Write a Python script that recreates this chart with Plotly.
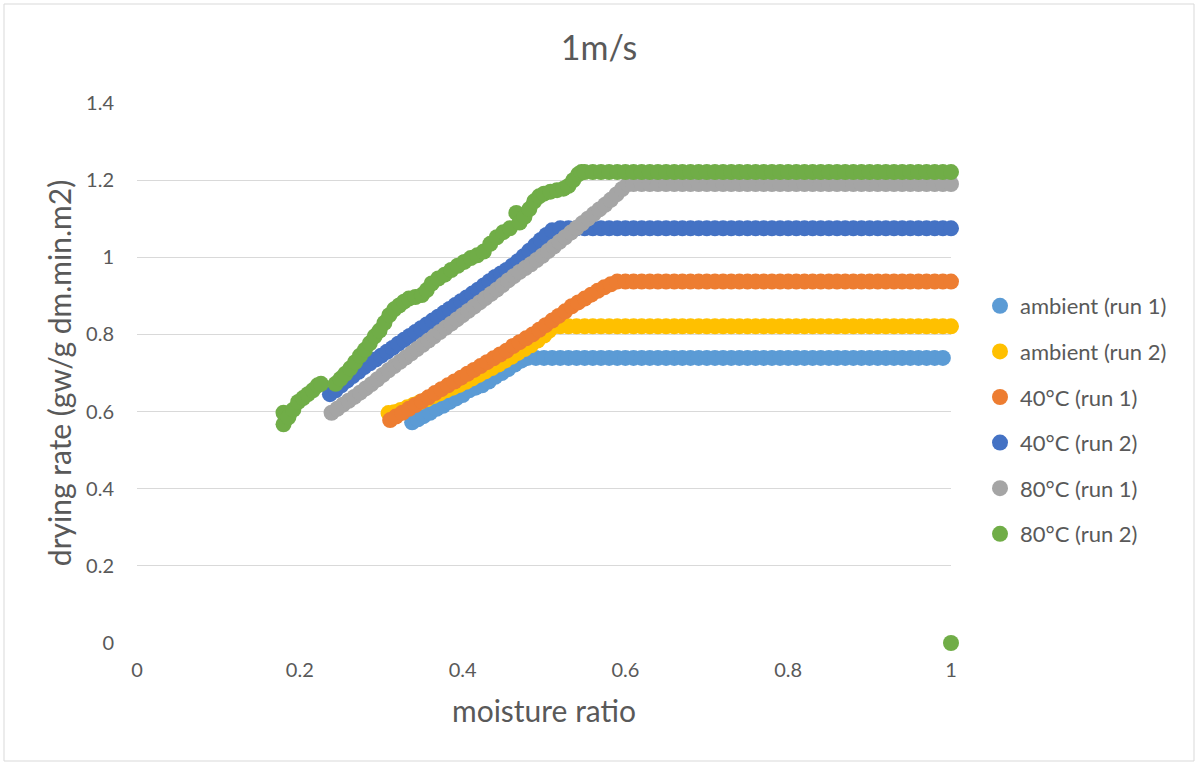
import plotly.graph_objects as go

# ---------------- data ----------------
series_names = ["ambient (run 1)", "ambient (run 2)", "40°C (run 1)",
                "40°C (run 2)", "80°C (run 1)", "80°C (run 2)"]
series_colors = ["#5B9BD5", "#FFC000", "#ED7D31", "#4472C4", "#A5A5A5", "#70AD47"]

plateau_grid = [0.48, 0.49, 0.5, 0.51, 0.52, 0.53, 0.54, 0.55, 0.56, 0.57,
                0.58, 0.59, 0.6, 0.61, 0.62, 0.63, 0.64, 0.65, 0.66, 0.67,
                0.68, 0.69, 0.7, 0.71, 0.72, 0.73, 0.74, 0.75, 0.76, 0.77,
                0.78, 0.79, 0.8, 0.81, 0.82, 0.83, 0.84, 0.85, 0.86, 0.87,
                0.88, 0.89, 0.9, 0.91, 0.92, 0.93, 0.94, 0.95, 0.96, 0.97,
                0.98, 0.99, 1.0]

# ambient (run 1)
amb1_x = [0.338, 0.345, 0.352, 0.36, 0.368, 0.376, 0.384, 0.392, 0.40, 0.408,
          0.416, 0.424, 0.432, 0.44, 0.448, 0.456, 0.464, 0.472] + plateau_grid[0:52]
amb1_y = [0.572, 0.58, 0.588, 0.597, 0.607, 0.615, 0.625, 0.634, 0.643, 0.655,
          0.662, 0.668, 0.678, 0.69, 0.70, 0.71, 0.722, 0.732] + [
    0.739, 0.739, 0.739, 0.739, 0.739, 0.739, 0.739, 0.739, 0.739, 0.739,
    0.739, 0.739, 0.739, 0.739, 0.739, 0.739, 0.739, 0.739, 0.739, 0.739,
    0.739, 0.739, 0.739, 0.739, 0.739, 0.739, 0.739, 0.739, 0.739, 0.739,
    0.739, 0.739, 0.739, 0.739, 0.739, 0.739, 0.739, 0.739, 0.739, 0.739,
    0.739, 0.739, 0.739, 0.739, 0.739, 0.739, 0.739, 0.739, 0.739, 0.739,
    0.739, 0.739]

# ambient (run 2)
amb2_x = [0.309, 0.316, 0.324, 0.332, 0.34, 0.348, 0.356, 0.364, 0.372, 0.38,
          0.388, 0.396, 0.404, 0.412, 0.42, 0.428, 0.436, 0.444, 0.452, 0.46,
          0.468, 0.476, 0.484, 0.492, 0.50, 0.506, 0.512] + plateau_grid[4:]
amb2_y = [0.596, 0.598, 0.604, 0.611, 0.618, 0.625, 0.632, 0.64, 0.647, 0.655,
          0.662, 0.669, 0.677, 0.686, 0.695, 0.704, 0.713, 0.722, 0.732, 0.742,
          0.752, 0.762, 0.772, 0.784, 0.797, 0.809, 0.821] + [
    0.821, 0.821, 0.821, 0.821, 0.821, 0.821, 0.821, 0.821, 0.821, 0.821,
    0.821, 0.821, 0.821, 0.821, 0.821, 0.821, 0.821, 0.821, 0.821, 0.821,
    0.821, 0.821, 0.821, 0.821, 0.821, 0.821, 0.821, 0.821, 0.821, 0.821,
    0.821, 0.821, 0.821, 0.821, 0.821, 0.821, 0.821, 0.821, 0.821, 0.821,
    0.821, 0.821, 0.821, 0.821, 0.821, 0.821, 0.821, 0.821, 0.821]

# 40°C (run 1)
c40a_x = [0.311, 0.318, 0.326, 0.334, 0.342, 0.35, 0.358, 0.366, 0.374, 0.382,
          0.39, 0.398, 0.406, 0.414, 0.422, 0.43, 0.438, 0.446, 0.454, 0.462,
          0.47, 0.478, 0.486, 0.494, 0.502, 0.51, 0.518, 0.526, 0.534, 0.542,
          0.55, 0.558, 0.566, 0.574, 0.582, 0.59] + plateau_grid[12:]
c40a_y = [0.578, 0.587, 0.597, 0.607, 0.617, 0.627, 0.637, 0.648, 0.658, 0.668,
          0.678, 0.688, 0.698, 0.708, 0.718, 0.728, 0.738, 0.748, 0.758, 0.77,
          0.78, 0.79, 0.80, 0.812, 0.824, 0.836, 0.848, 0.86, 0.873, 0.883,
          0.893, 0.903, 0.913, 0.922, 0.93, 0.937] + [
    0.937, 0.937, 0.937, 0.937, 0.937, 0.937, 0.937, 0.937, 0.937, 0.937,
    0.937, 0.937, 0.937, 0.937, 0.937, 0.937, 0.937, 0.937, 0.937, 0.937,
    0.937, 0.937, 0.937, 0.937, 0.937, 0.937, 0.937, 0.937, 0.937, 0.937,
    0.937, 0.937, 0.937, 0.937, 0.937, 0.937, 0.937, 0.937, 0.937, 0.937,
    0.937]

# 40°C (run 2)
c40b_x = [0.237, 0.244, 0.251, 0.258, 0.265, 0.272, 0.279, 0.286, 0.293, 0.30,
          0.307, 0.314, 0.321, 0.328, 0.335, 0.342, 0.349, 0.356, 0.363, 0.37,
          0.377, 0.384, 0.391, 0.398, 0.405, 0.412, 0.419, 0.426, 0.433, 0.44,
          0.447, 0.454, 0.461, 0.468, 0.475, 0.482, 0.489, 0.496, 0.503, 0.51] + plateau_grid[4:]
c40b_y = [0.645, 0.655, 0.668, 0.68, 0.692, 0.703, 0.715, 0.725, 0.735, 0.745,
          0.755, 0.765, 0.776, 0.786, 0.796, 0.806, 0.816, 0.826, 0.836, 0.846,
          0.856, 0.866, 0.876, 0.886, 0.896, 0.906, 0.916, 0.927, 0.938, 0.949,
          0.958, 0.967, 0.978, 0.99, 1.003, 1.017, 1.031, 1.045, 1.058, 1.07] + [
    1.075, 1.075, 1.075, 1.075, 1.075, 1.075, 1.075, 1.075, 1.075, 1.075,
    1.075, 1.075, 1.075, 1.075, 1.075, 1.075, 1.075, 1.075, 1.075, 1.075,
    1.075, 1.075, 1.075, 1.075, 1.075, 1.075, 1.075, 1.075, 1.075, 1.075,
    1.075, 1.075, 1.075, 1.075, 1.075, 1.075, 1.075, 1.075, 1.075, 1.075,
    1.075, 1.075, 1.075, 1.075, 1.075, 1.075, 1.075, 1.075, 1.075]

# 80°C (run 1)
c80a_x = [0.239, 0.246, 0.253, 0.26, 0.267, 0.274, 0.281, 0.288, 0.295, 0.302,
          0.309, 0.316, 0.323, 0.33, 0.337, 0.344, 0.351, 0.358, 0.365, 0.372,
          0.379, 0.386, 0.393, 0.40, 0.407, 0.414, 0.421, 0.428, 0.435, 0.442,
          0.449, 0.456, 0.463, 0.47, 0.477, 0.484, 0.491, 0.498, 0.505, 0.512,
          0.519, 0.526, 0.533, 0.54, 0.547, 0.554, 0.561, 0.568, 0.575, 0.582,
          0.589, 0.596, 0.603] + plateau_grid[13:]
c80a_y = [0.597, 0.607, 0.618, 0.628, 0.638, 0.649, 0.66, 0.671, 0.683, 0.695,
          0.707, 0.718, 0.729, 0.74, 0.751, 0.762, 0.773, 0.784, 0.795, 0.806,
          0.817, 0.828, 0.839, 0.85, 0.861, 0.872, 0.883, 0.894, 0.905, 0.916,
          0.928, 0.94, 0.951, 0.962, 0.972, 0.982, 0.993, 1.004, 1.016, 1.028,
          1.04, 1.052, 1.064, 1.076, 1.088, 1.1, 1.112, 1.124, 1.136, 1.149,
          1.163, 1.177, 1.19] + [
    1.19, 1.19, 1.19, 1.19, 1.19, 1.19, 1.19, 1.19, 1.19, 1.19,
    1.19, 1.19, 1.19, 1.19, 1.19, 1.19, 1.19, 1.19, 1.19, 1.19,
    1.19, 1.19, 1.19, 1.19, 1.19, 1.19, 1.19, 1.19, 1.19, 1.19,
    1.19, 1.19, 1.19, 1.19, 1.19, 1.19, 1.19, 1.19, 1.19, 1.19]

# 80°C (run 2)
c80b_x = [1.0, 0.18, 0.18, 0.186, 0.192, 0.198, 0.204, 0.21, 0.216, 0.222, 0.226,
          0.244, 0.25, 0.256, 0.262, 0.268, 0.274, 0.28, 0.286, 0.292, 0.298,
          0.304, 0.31, 0.316, 0.322, 0.328, 0.334, 0.342, 0.35, 0.356, 0.362,
          0.37, 0.378, 0.386, 0.394, 0.402, 0.41, 0.418, 0.426, 0.434, 0.442,
          0.45, 0.458, 0.466, 0.47, 0.476, 0.482, 0.488, 0.494, 0.50, 0.508,
          0.516, 0.524, 0.53, 0.536, 0.542, 0.546] + plateau_grid[7:]
c80b_y = [0.0, 0.567, 0.597, 0.585, 0.605, 0.625, 0.635, 0.645, 0.655, 0.668, 0.672,
          0.672, 0.685, 0.698, 0.712, 0.728, 0.745, 0.76, 0.777, 0.795, 0.81,
          0.83, 0.85, 0.865, 0.875, 0.885, 0.893, 0.897, 0.902, 0.915, 0.932,
          0.945, 0.955, 0.967, 0.978, 0.988, 0.998, 1.005, 1.015, 1.035, 1.052,
          1.065, 1.075, 1.115, 1.09, 1.105, 1.125, 1.145, 1.158, 1.165, 1.17,
          1.174, 1.178, 1.185, 1.2, 1.215, 1.221] + [
    1.221, 1.221, 1.221, 1.221, 1.221, 1.221, 1.221, 1.221, 1.221, 1.221,
    1.221, 1.221, 1.221, 1.221, 1.221, 1.221, 1.221, 1.221, 1.221, 1.221,
    1.221, 1.221, 1.221, 1.221, 1.221, 1.221, 1.221, 1.221, 1.221, 1.221,
    1.221, 1.221, 1.221, 1.221, 1.221, 1.221, 1.221, 1.221, 1.221, 1.221,
    1.221, 1.221, 1.221, 1.221, 1.221, 1.221]

x_ticks = [0, 0.2, 0.4, 0.6, 0.8, 1]
x_tick_labels = ["0", "0.2", "0.4", "0.6", "0.8", "1"]
y_ticks = [0, 0.2, 0.4, 0.6, 0.8, 1, 1.2, 1.4]
y_tick_labels = ["0", "0.2", "0.4", "0.6", "0.8", "1", "1.2", "1.4"]

all_x = [amb1_x, amb2_x, c40a_x, c40b_x, c80a_x, c80b_x]
all_y = [amb1_y, amb2_y, c40a_y, c40b_y, c80a_y, c80b_y]

# ---------------- figure ----------------
FONT = "Lato, Carlito, Calibri, sans-serif"
TXT = "#595959"
GRID = "#D9D9D9"

fig = go.Figure()
for i, (name, color, xs, ys) in enumerate(zip(series_names, series_colors, all_x, all_y)):
    fig.add_trace(go.Scatter(
        x=xs, y=ys, name=name, mode="markers",
        marker=dict(size=16, color=color, line=dict(width=0)),
        cliponaxis=False, legendgroup=f"g{i}",
    ))

W, H = 1198, 765
L, R, T, B = 137, W - 951, 103, H - 643
pw, ph = W - L - R, H - T - B

def px_x(p):
    return (p - L) / pw

def px_y(p):
    return (H - B - p) / ph

fig.update_layout(
    width=W, height=H,
    margin=dict(l=L, r=R, t=T, b=B, pad=0),
    paper_bgcolor="white", plot_bgcolor="white",
    font=dict(family=FONT, color=TXT, size=20),
    title=dict(text="1m/s", x=0.5, xanchor="center", xref="container",
               y=1 - 48 / H, yanchor="middle", yref="container",
               font=dict(size=34, color=TXT, family=FONT)),
    xaxis=dict(range=[0, 1], tickvals=x_ticks, ticktext=x_tick_labels,
               showgrid=False, zeroline=False, showline=False, ticks="",
               tickfont=dict(size=20, color=TXT), ticklabelstandoff=13,
               title=dict(text="moisture ratio", font=dict(size=30, color=TXT), standoff=20)),
    yaxis=dict(range=[0, 1.4], tickvals=y_ticks, ticktext=y_tick_labels,
               showgrid=True, gridcolor=GRID, gridwidth=1.3, zeroline=False,
               showline=False, ticks="", tickfont=dict(size=20, color=TXT),
               ticklabelstandoff=22,
               title=dict(text="drying rate (gw/g dm.min.m2)", font=dict(size=30, color=TXT), standoff=5)),
    legend=dict(x=px_x(980), xanchor="left", y=px_y(420), yanchor="middle",
                font=dict(size=22, color=TXT), tracegroupgap=14,
                bgcolor="rgba(0,0,0,0)", itemsizing="trace"),
    shapes=[dict(type="rect", xref="paper", yref="paper",
                 x0=px_x(4), x1=px_x(1194), y0=px_y(761), y1=px_y(4),
                 line=dict(color=GRID, width=1), fillcolor="rgba(0,0,0,0)", layer="below")],
)

fig.write_html("out.html")
